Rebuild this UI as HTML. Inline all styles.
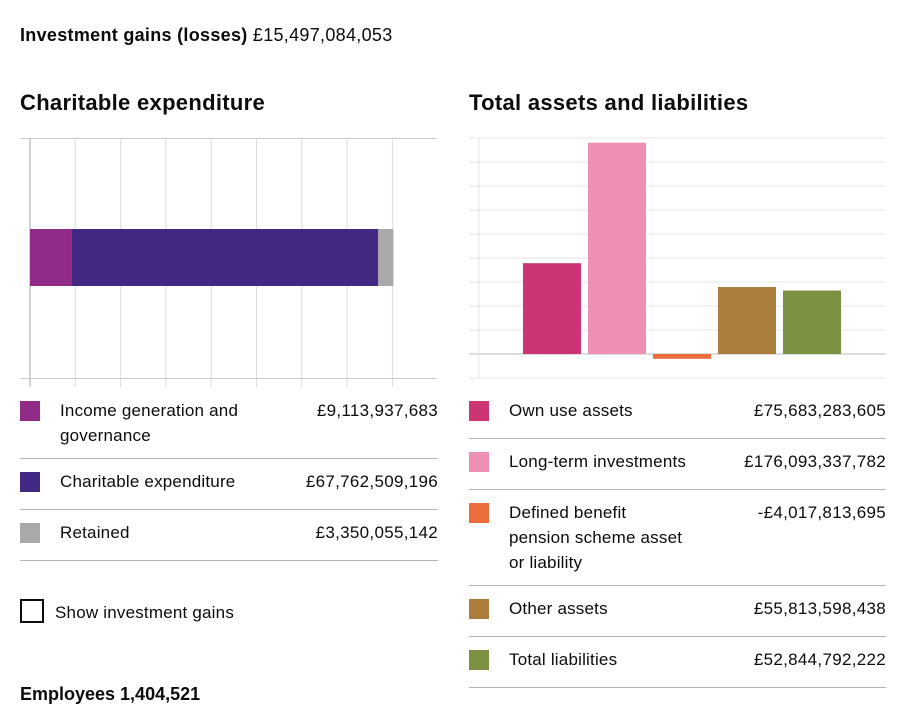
<!DOCTYPE html>
<html><head><meta charset="utf-8"><style>
body{margin:0;width:909px;height:725px;background:#fff;font-family:"Liberation Sans",sans-serif;color:#0b0c0c;position:relative;overflow:hidden}
.a{position:absolute}
.t{font-size:17px;line-height:25px;letter-spacing:0.2px}
h2{position:absolute;margin:0;font-size:22px;font-weight:bold;letter-spacing:0.3px}
.sw{position:absolute;width:20px;height:20px}
.sep{position:absolute;height:1px;background:#b1b4b6}
.val{position:absolute;text-align:right;font-size:17px;line-height:25px;letter-spacing:0.3px}
</style></head><body>
<div class="a" style="left:20px;top:23px;font-size:18px;line-height:25px;letter-spacing:0.3px"><b>Investment gains (losses)</b> £15,497,084,053</div>
<h2 style="left:20px;top:90px">Charitable expenditure</h2>
<h2 style="left:469px;top:90px">Total assets and liabilities</h2>
<svg class="a" style="left:0;top:0" width="909" height="400" id="c1"></svg>
<div id="leg1"></div><div id="leg2"></div>
<div class="a" style="left:20px;top:599px;width:20px;height:20px;border:2px solid #0b0c0c"></div>
<div class="a t" style="left:55px;top:600px">Show investment gains</div>
<div class="a" style="left:20px;top:682px;font-size:18px;line-height:25px"><b>Employees 1,404,521</b></div>
<script>
const cats1=["Income generation and governance","Charitable expenditure","Retained"];
const vals1=[9113937683,67762509196,3350055142];
const labels1=["£9,113,937,683","£67,762,509,196","£3,350,055,142"];
const cols1=["#912b88","#422883","#a9a9a9"];
const cats2=["Own use assets","Long-term investments","Defined benefit pension scheme asset or liability","Other assets","Total liabilities"];
const vals2=[75683283605,176093337782,-4017813695,55813598438,52844792222];
const labels2=["£75,683,283,605","£176,093,337,782","-£4,017,813,695","£55,813,598,438","£52,844,792,222"];
const cols2=["#cc3473","#ee8fb4","#ea6d3b","#ab7e3e","#7a9142"];
const ns="http://www.w3.org/2000/svg";
const svg=document.getElementById('c1');
function mk(t,a){const e=document.createElementNS(ns,t);for(const k in a)e.setAttribute(k,a[k]);svg.appendChild(e);return e;}
const x1=v=>30+v/1e9*4.53;
for(let g=0;g<=80;g+=10){const l=mk('line',{x1:x1(g*1e9),x2:x1(g*1e9),y1:138,y2:387,stroke:g==0?'#aaa':'#ddd'});}
mk('line',{x1:20,x2:437,y1:138.5,y2:138.5,stroke:'#ccc'});
mk('line',{x1:20,x2:437,y1:378.5,y2:378.5,stroke:'#ccc'});
let acc=0;
vals1.forEach((v,i)=>{const r=mk('rect',{x:x1(acc),y:229,width:x1(acc+v)-x1(acc),height:57,fill:cols1[i]});acc+=v;});
const y2=v=>354-v/1e9*1.2;
for(let g=-20;g<=180;g+=20){const l=mk('line',{x1:469,x2:886,y1:y2(g*1e9),y2:y2(g*1e9),stroke:g==0?'#bbb':'#e5e5e5'});}
mk('line',{x1:479,x2:479,y1:138,y2:378,stroke:'#e5e5e5'});
vals2.forEach((v,i)=>{const x=523+i*65;const y=Math.min(y2(v),y2(0));const r=mk('rect',{x:x,y:y,width:58,height:Math.abs(y2(v)-y2(0)),fill:cols2[i]});});
function legend(host,cats,labels,cols,sx,tx,vr,tops,seps,tw){
 const h=document.getElementById(host);
 cats.forEach((c,i)=>{
  const s=document.createElement('div');s.className='sw';s.style.cssText=`left:${sx}px;top:${tops[i]+3}px;background:${cols[i]}`;
  
  h.appendChild(s);
  const t=document.createElement('div');t.className='a t';t.style.cssText=`left:${tx}px;top:${tops[i]}px;width:${tw}px`;t.textContent=c;
  
  h.appendChild(t);
  const v=document.createElement('div');v.className='val';v.style.cssText=`right:${909-vr}px;top:${tops[i]}px`;v.textContent=labels[i];
  
  h.appendChild(v);
  const l=document.createElement('div');l.className='sep';l.style.cssText=`left:${sx}px;width:${vr-sx}px;top:${seps[i]}px`;
  
  h.appendChild(l);
 });
}
legend('leg1',cats1,labels1,cols1,20,60,438,[398,469,520],[458,509,560],195);
legend('leg2',cats2,labels2,cols2,469,509,886,[398,449,500,596,647],[438,489,585,636,687],178);
</script>
</body></html>
